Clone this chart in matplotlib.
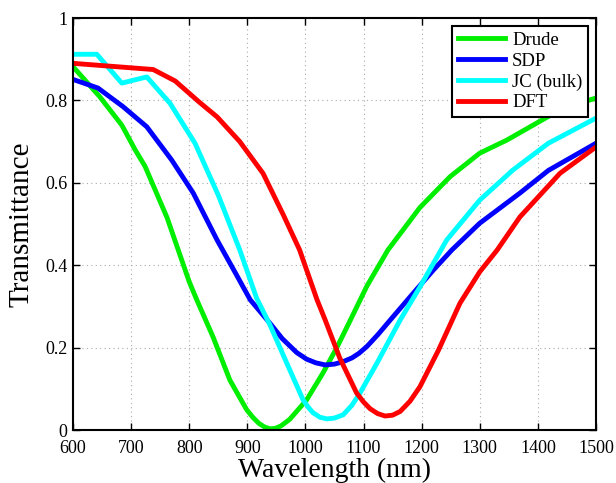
import matplotlib
matplotlib.use('Agg')
import matplotlib.pyplot as plt

drude_wl = [600, 646, 684, 707, 724, 762, 800, 813, 841, 870, 899, 910, 920, 930,
            939, 948, 958, 973, 1002, 1030, 1054, 1075, 1106, 1142, 1197, 1249,
            1300, 1347, 1398, 1438, 1500]
drude_t = [0.882, 0.809, 0.74, 0.68, 0.64, 0.515, 0.36, 0.316, 0.226, 0.121, 0.049,
           0.03, 0.016, 0.007, 0.003, 0.004, 0.01, 0.026, 0.073, 0.138, 0.20, 0.26,
           0.35, 0.437, 0.54, 0.615, 0.672, 0.704, 0.745, 0.777, 0.806]

sdp_wl = [600, 643, 686, 727, 770, 807, 848, 880, 905, 939, 960, 985, 1002, 1018,
          1034, 1050, 1065, 1080, 1092, 1106, 1125, 1146, 1180, 1220, 1252, 1300,
          1369, 1418, 1500]
sdp_t = [0.851, 0.83, 0.785, 0.736, 0.655, 0.575, 0.461, 0.38, 0.316, 0.259, 0.222,
         0.188, 0.172, 0.163, 0.158, 0.16, 0.166, 0.175, 0.186, 0.203, 0.232, 0.267,
         0.323, 0.388, 0.437, 0.502, 0.575, 0.63, 0.696]

jc_wl = [600, 641, 684, 727, 767, 810, 850, 887, 916, 939, 968, 996, 1005, 1013,
         1025, 1037, 1050, 1065, 1080, 1094, 1123, 1163, 1197, 1243, 1300, 1357,
         1418, 1500]
jc_t = [0.912, 0.912, 0.842, 0.857, 0.793, 0.696, 0.57, 0.437, 0.32, 0.255, 0.162,
        0.073, 0.055, 0.042, 0.031, 0.027, 0.029, 0.037, 0.06, 0.09, 0.162, 0.267,
        0.347, 0.461, 0.558, 0.631, 0.696, 0.757]

dft_wl = [600, 738, 776, 818, 848, 887, 927, 962, 990, 1020, 1034, 1059, 1088, 1100,
          1111, 1124, 1137, 1150, 1163, 1180, 1197, 1229, 1266, 1300, 1330, 1369,
          1438, 1500]
dft_t = [0.89, 0.875, 0.847, 0.795, 0.76, 0.70, 0.623, 0.522, 0.437, 0.316, 0.267,
         0.175, 0.09, 0.068, 0.052, 0.04, 0.034, 0.036, 0.045, 0.07, 0.105, 0.194,
         0.308, 0.384, 0.437, 0.517, 0.623, 0.687]

plt.rcParams['font.family'] = ['Liberation Serif', 'DejaVu Serif']

fig = plt.figure(figsize=(6.16, 4.83), dpi=100)
ax = fig.add_axes([0.1185, 0.1097, 0.849, 0.853])

lw = 3.5
ax.plot(drude_wl, drude_t, color='#00ee00', lw=lw, label='Drude')
ax.plot(sdp_wl, sdp_t, color='#0000ff', lw=lw, label='SDP')
ax.plot(jc_wl, jc_t, color='#00ffff', lw=lw, label='JC (bulk)')
ax.plot(dft_wl, dft_t, color='#ff0000', lw=lw, label='DFT')

ax.set_xlim(600, 1500)
ax.set_ylim(0, 1)
ax.set_xticks(range(600, 1501, 100))
ax.set_yticks([0, 0.2, 0.4, 0.6, 0.8, 1])
ax.set_yticklabels(['0', '0.2', '0.4', '0.6', '0.8', '1'])
ax.grid(True, color='#aaaaaa', linestyle=(0, (1, 3)), linewidth=0.8)
ax.tick_params(direction='in', top=True, right=True, labelsize=13,
               length=5, width=1)
ax.tick_params(axis='x', pad=7)
ax.tick_params(axis='y', pad=4)
for sp in ax.spines.values():
    sp.set_linewidth(1.5)

ax.set_xlabel('Wavelength (nm)', fontsize=20, labelpad=1)
ax.set_ylabel('Transmittance', fontsize=21, labelpad=8)

leg = ax.legend(loc='upper right', fontsize=13.5, fancybox=False, framealpha=1,
                edgecolor='black', handlelength=2.5, labelspacing=0.2,
                borderaxespad=0.42, borderpad=0.3, handletextpad=0.4)
leg.get_frame().set_linewidth(1.5)

fig.savefig('out.png', dpi=100)
